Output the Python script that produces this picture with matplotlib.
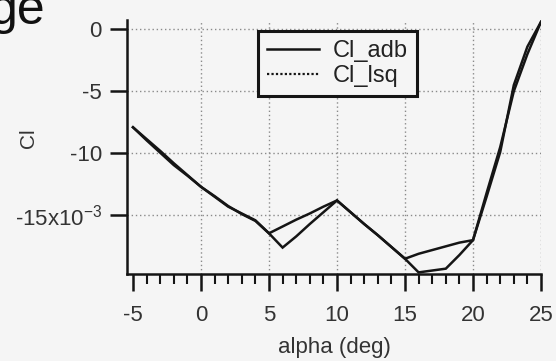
import matplotlib
matplotlib.use("Agg")
import matplotlib.pyplot as plt
from matplotlib.lines import Line2D
import numpy as np

alpha = list(range(-5, 26))
cl_adb = [-7.9, -8.95, -9.95, -10.95, -11.8, -12.7, -13.5, -14.3, -14.85, -15.4,
          -16.45, -17.6, -16.7, -15.7, -14.75, -13.8, -14.75, -15.7, -16.6, -17.55,
          -18.5, -19.6, -19.45, -19.3, -18.2, -17.0, -13.5, -9.9, -4.5, -1.4, 0.6]
cl_lsq = [-7.9, -8.85, -9.8, -10.8, -11.75, -12.7, -13.45, -14.25, -14.9, -15.45,
          -16.45, -15.9, -15.35, -14.85, -14.3, -13.8, -14.75, -15.7, -16.6, -17.55,
          -18.5, -18.1, -17.8, -17.5, -17.2, -17.0, -13.2, -9.5, -5.0, -2.0, 0.6]
y_ticks = [0, -5e-3, -10e-3, -15e-3]
y_tick_labels = ["0", "-5", "-10", "-15x10$^{-3}$"]
x_ticks = [-5, 0, 5, 10, 15, 20, 25]

plt.rcParams["font.family"] = ["Liberation Sans", "DejaVu Sans"]
plt.rcParams["mathtext.fontset"] = "custom"
plt.rcParams["mathtext.rm"] = "Liberation Sans"
plt.rcParams["axes.unicode_minus"] = False

bg = "#f5f5f5"
ink = "#151515"

fig = plt.figure(figsize=[5.56, 3.61], dpi=100, facecolor=bg)
ax = fig.add_axes([127 / 556, 1 - 274 / 361, 414 / 556, 254 / 361])
ax.set_facecolor(bg)

y_adb = np.array(cl_adb) * 1e-3
y_lsq = np.array(cl_lsq) * 1e-3
ax.plot(alpha, y_adb, color=ink, linewidth=1.8, solid_joinstyle="miter")
ax.plot(alpha, y_lsq, color=ink, linewidth=1.8, solid_joinstyle="miter")

ax.set_xlim(-5.44, 25.0)
ax.set_ylim(-19.73e-3, 0.75e-3)

# grid, drawn only at the inner major ticks
for xv in x_ticks[1:]:
    ax.axvline(xv, color="#8a8a8a", linewidth=1.0, linestyle=(0, (1, 2)), zorder=0)
for yv in y_ticks:
    ax.axhline(yv, color="#8a8a8a", linewidth=1.0, linestyle=(0, (1, 2)), zorder=0)

ax.set_xticks(x_ticks)
ax.set_xticks(range(-5, 26), minor=True)
ax.set_yticks(y_ticks)
ax.set_yticklabels(y_tick_labels)

for side in ["top", "right"]:
    ax.spines[side].set_visible(False)
for side in ["left", "bottom"]:
    ax.spines[side].set_linewidth(1.8)
    ax.spines[side].set_color(ink)

ax.tick_params(axis="both", which="major", direction="out", length=12, width=1.8,
               color=ink, labelsize=16, labelcolor="#333333")
ax.tick_params(axis="y", which="major", pad=6)
ax.tick_params(axis="x", which="minor", direction="out", length=7, width=1.5, color=ink)
ax.tick_params(axis="x", which="major", pad=10)

ax.set_xlabel("alpha (deg)", fontsize=16, color="#333333", labelpad=8)
ax.set_ylabel("Cl", fontsize=15, color="#333333")
ax.yaxis.set_label_coords(-0.215, 0.535)

handles = [Line2D([], [], color=ink, linewidth=1.8),
           Line2D([], [], color=ink, linewidth=1.6, linestyle=(0, (1, 1)))]
leg = ax.legend(handles, ["Cl_adb", "Cl_lsq"], loc="upper left",
                bbox_to_anchor=(0.316, 0.957), borderaxespad=0, fontsize=17,
                frameon=True, fancybox=False, framealpha=1, facecolor=bg,
                edgecolor=ink, handlelength=2.2, handletextpad=0.6,
                labelspacing=0.15, borderpad=0.38)
leg.get_frame().set_linewidth(2.2)
for t in leg.get_texts():
    t.set_color("#222222")

fig.text(45 / 556, 1 - 24 / 361, "ge", fontsize=36, ha="right", va="baseline",
         color="#111111")

fig.savefig("out.png", dpi=100, facecolor=bg)
